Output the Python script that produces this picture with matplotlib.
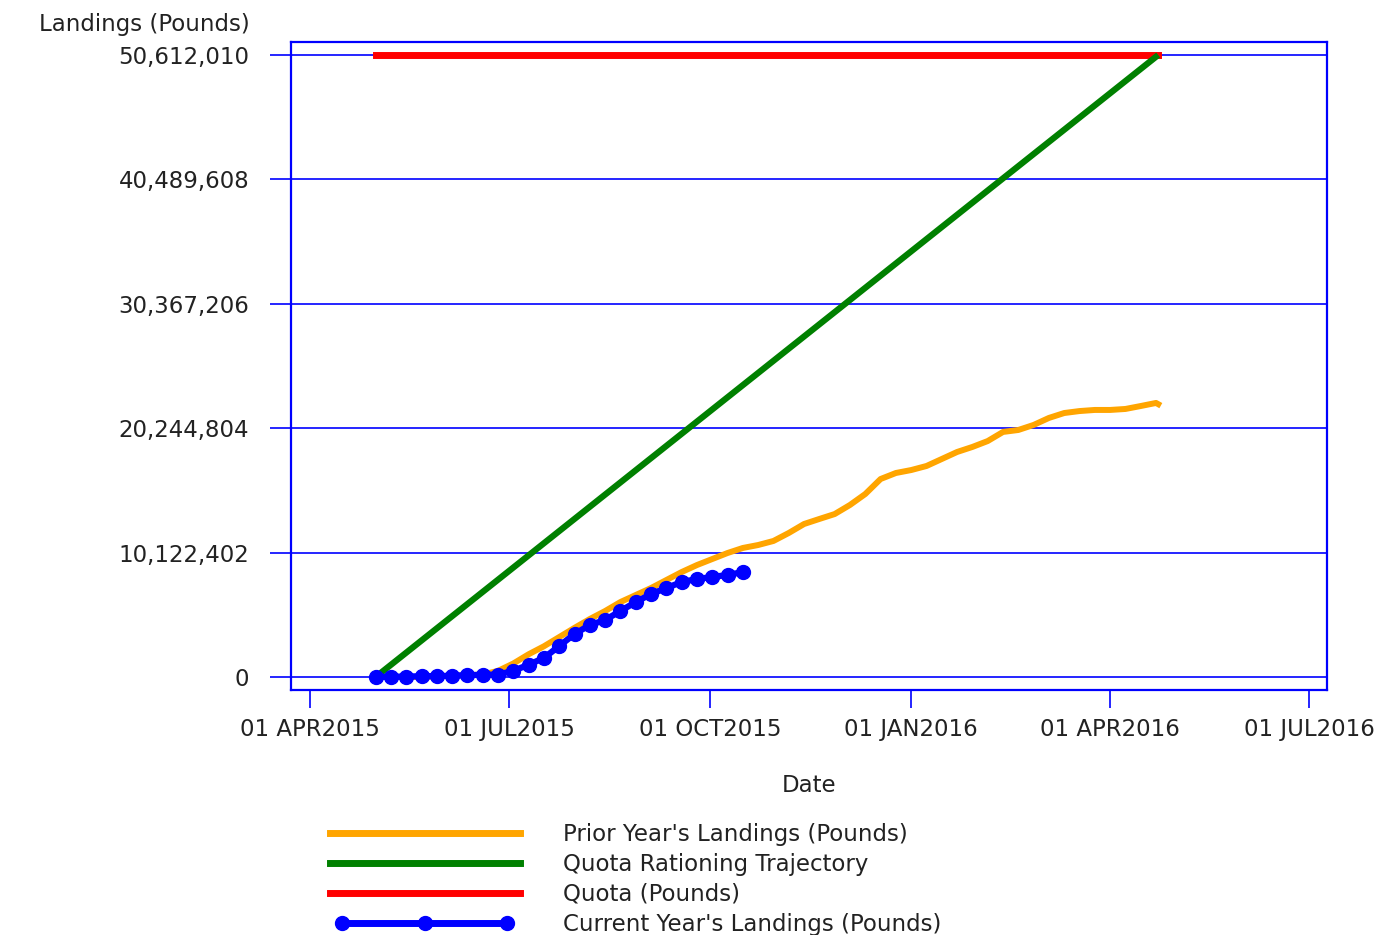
import matplotlib
matplotlib.use("Agg")
import matplotlib.pyplot as plt
import matplotlib.dates as mdates
from matplotlib.legend_handler import HandlerLine2D
from matplotlib.lines import Line2D
import pandas as pd
import numpy as np

# ---------------- data ----------------
quota = 50612010
season_start = "2015-05-01"
season_end = "2016-04-23"

ytick_values = [0, 10122402, 20244804, 30367206, 40489608, 50612010]
ytick_labels = ["0", "10,122,402", "20,244,804", "30,367,206", "40,489,608", "50,612,010"]
xtick_dates = ["2015-04-01", "2015-07-01", "2015-10-01", "2016-01-01", "2016-04-01", "2016-07-01"]
xtick_labels = ["01 APR2015", "01 JUL2015", "01 OCT2015", "01 JAN2016", "01 APR2016", "01 JUL2016"]

# Prior year's cumulative landings (millions of pounds), weekly from 2015-05-01, plus final day
prior_dates = list(pd.date_range("2015-05-01", periods=52, freq="7D")) + [pd.Timestamp("2016-04-23")]
prior_values_m = [0, 0, 0, 0, 0.05, 0.1, 0.15, 0.2, 0.5, 1.1, 1.85, 2.5, 3.25, 4.0, 4.72, 5.37,
                  6.10, 6.67, 7.24, 7.89, 8.54, 9.11, 9.60, 10.09, 10.50, 10.74, 11.07, 11.72,
                  12.45, 12.86, 13.26, 14.00, 14.89, 16.11, 16.60, 16.84, 17.17, 17.74, 18.31,
                  18.72, 19.20, 19.94, 20.10, 20.51, 21.08, 21.48, 21.64, 21.73, 21.73, 21.81,
                  22.05, 22.30, 22.20]

# Current year's cumulative landings (millions of pounds), weekly from 2015-05-01
current_dates = pd.date_range("2015-05-01", periods=25, freq="7D")
current_values_m = [0, 0.02, 0.04, 0.06, 0.08, 0.1, 0.15, 0.18, 0.2, 0.5, 1.0, 1.55, 2.52,
                    3.5, 4.23, 4.64, 5.37, 6.10, 6.75, 7.24, 7.73, 7.97, 8.14, 8.30, 8.54]

# ---------------- figure ----------------
plt.rcParams["font.family"] = ["DejaVu Sans"]
fig = plt.figure(figsize=(13.8, 9.35), dpi=100)
ax = fig.add_axes([291 / 1380, 1 - 690 / 935, (1327 - 291) / 1380, (690 - 42) / 935])

BLUE = "#0000FF"
txt_color = "#222222"
FS = 16.5

for y in ytick_values:
    ax.axhline(y, color=BLUE, lw=1.2, zorder=1)

sd, ed = pd.Timestamp(season_start), pd.Timestamp(season_end)
ax.plot([sd, ed], [quota, quota], color="#FF0000", lw=5, solid_capstyle="projecting", zorder=3,
        label="Quota (Pounds)")
ax.plot([sd, ed], [0, quota], color="#008000", lw=4.5, solid_capstyle="butt", zorder=4,
        label="Quota Rationing Trajectory")
ax.plot(prior_dates, np.array(prior_values_m) * 1e6, color="#FFA500", lw=4.3, zorder=5,
        label="Prior Year's Landings (Pounds)")
ax.plot(current_dates, np.array(current_values_m) * 1e6, color=BLUE, lw=4.5, marker="o",
        ms=10, zorder=6, label="Current Year's Landings (Pounds)")

x0 = mdates.date2num(pd.Timestamp("2015-04-01")) - 8.7
x1 = mdates.date2num(pd.Timestamp("2016-07-01")) + 8.2
ax.set_xlim(x0, x1)
ax.set_ylim(-1.058e6, 51.67e6)

ax.set_yticks(ytick_values)
ax.set_yticklabels(ytick_labels)
ax.set_xticks([mdates.date2num(pd.Timestamp(d)) for d in xtick_dates])
ax.set_xticklabels(xtick_labels)

ax.tick_params(axis="y", direction="out", length=15, width=1.2, color=BLUE, pad=15,
               labelsize=FS, labelcolor=txt_color)
ax.tick_params(axis="x", direction="out", length=13, width=1.2, color=BLUE, pad=7,
               labelsize=FS, labelcolor=txt_color)
for s in ax.spines.values():
    s.set_color(BLUE)
    s.set_linewidth(1.6)

ax.set_xlabel("Date", fontsize=FS, color=txt_color, labelpad=24)

fig.text(250 / 1380, 1 - 25 / 935, "Landings (Pounds)", ha="right", va="center",
         fontsize=FS, color=txt_color)

# legend
h = [Line2D([], [], color="#FFA500", lw=5),
     Line2D([], [], color="#008000", lw=5),
     Line2D([], [], color="#FF0000", lw=5),
     Line2D([], [], color=BLUE, lw=5, marker="o", ms=10)]
labels = ["Prior Year's Landings (Pounds)", "Quota Rationing Trajectory", "Quota (Pounds)",
          "Current Year's Landings (Pounds)"]
fig.legend(h, labels, loc="upper left", bbox_to_anchor=(323 / 1380, 1 - 823 / 935),
           frameon=False, fontsize=FS, handlelength=8.9, handletextpad=1.57,
           labelspacing=0.3, borderpad=0, borderaxespad=0, numpoints=3,
           handler_map={h[3]: HandlerLine2D(marker_pad=0.85)}, labelcolor=txt_color)

fig.savefig("out.png", dpi=100)
